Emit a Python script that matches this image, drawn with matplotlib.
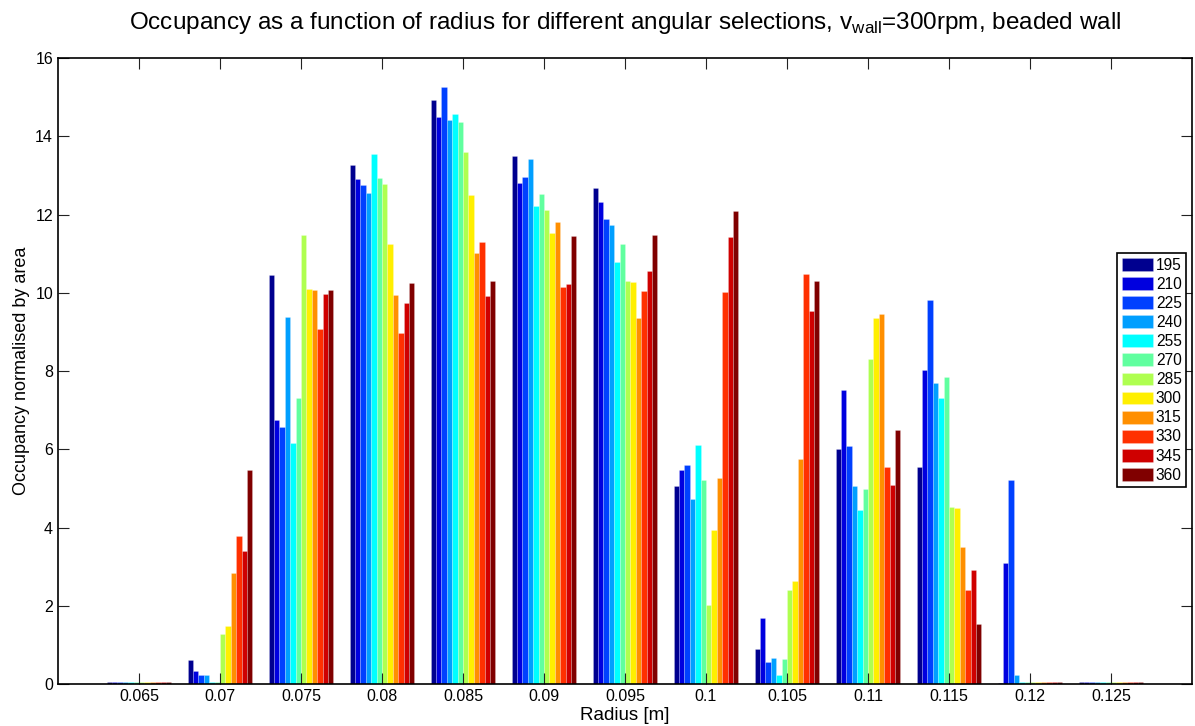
import numpy as np
import matplotlib
matplotlib.use("Agg")
import matplotlib.pyplot as plt

plt.rcParams['font.family'] = ['Liberation Sans', 'DejaVu Sans']
plt.rcParams['mathtext.fontset'] = 'custom'
plt.rcParams['mathtext.rm'] = 'Liberation Sans'

radius = [0.065, 0.07, 0.075, 0.08, 0.085, 0.09, 0.095, 0.1, 0.105, 0.11, 0.115, 0.12, 0.125]
radius_labels = ['0.065', '0.07', '0.075', '0.08', '0.085', '0.09', '0.095', '0.1',
                 '0.105', '0.11', '0.115', '0.12', '0.125']
angles = ['195', '210', '225', '240', '255', '270', '285', '300', '315', '330', '345', '360']

# occupancy per angular selection, one list per angle, one value per radius bin
occ_195 = [0.06, 0.62, 10.45, 13.26, 14.94, 13.49, 12.69, 5.07, 0.89, 6.00, 5.55, 0.03, 0.06]
occ_210 = [0.06, 0.32, 6.74, 12.91, 14.50, 12.80, 12.33, 5.46, 1.69, 7.52, 8.03, 3.10, 0.06]
occ_225 = [0.06, 0.22, 6.58, 12.76, 15.25, 12.96, 11.89, 5.61, 0.57, 6.08, 9.82, 5.21, 0.06]
occ_240 = [0.06, 0.23, 9.37, 12.54, 14.41, 13.43, 11.73, 4.73, 0.67, 5.05, 7.69, 0.23, 0.06]
occ_255 = [0.06, 0.05, 6.17, 13.55, 14.56, 12.23, 10.79, 6.11, 0.23, 4.45, 7.32, 0.05, 0.06]
occ_270 = [0.06, 0.05, 7.31, 12.94, 14.37, 12.53, 11.24, 5.21, 0.64, 4.98, 7.86, 0.06, 0.06]
occ_285 = [0.06, 1.29, 11.48, 12.77, 13.60, 12.11, 10.29, 2.02, 2.40, 8.31, 4.52, 0.06, 0.06]
occ_300 = [0.06, 1.48, 10.11, 11.26, 12.50, 11.53, 10.27, 3.94, 2.62, 9.36, 4.50, 0.06, 0.06]
occ_315 = [0.06, 2.84, 10.08, 9.95, 11.02, 11.80, 9.36, 5.27, 5.74, 9.45, 3.50, 0.06, 0.06]
occ_330 = [0.06, 3.78, 9.08, 8.98, 11.29, 10.15, 10.05, 10.03, 10.48, 5.55, 2.39, 0.06, 0.06]
occ_345 = [0.06, 3.39, 9.98, 9.75, 9.91, 10.23, 10.55, 11.42, 9.53, 5.09, 2.91, 0.06, 0.06]
occ_360 = [0.06, 5.46, 10.07, 10.26, 10.31, 11.46, 11.47, 12.09, 10.30, 6.49, 1.53, 0.06, 0.06]

series = [occ_195, occ_210, occ_225, occ_240, occ_255, occ_270,
          occ_285, occ_300, occ_315, occ_330, occ_345, occ_360]

# jet-like colours picked for 12 series
colors = [(0, 0, 0.5625), (0, 0, 0.875), (0, 0.25, 1), (0, 0.625, 1),
          (0, 1, 1), (0.375, 1, 0.625), (0.6875, 1, 0.3125), (1, 0.9375, 0),
          (1, 0.5625, 0), (1, 0.1875, 0), (0.8125, 0, 0), (0.5, 0, 0)]

fig = plt.figure(figsize=(11.95, 7.26), dpi=100)
ax = fig.add_axes([0.0485, 0.0579, 0.949, 0.862])

x = np.array(radius)
n = len(series)
w = 0.005 * 0.8 / n
for i, vals in enumerate(series):
    ax.bar(x + (i - (n - 1) / 2) * w, vals, width=w, color=colors[i],
           edgecolor=(1, 1, 1, 0.35), linewidth=0.4, label=angles[i])

ax.set_xlim(0.06, 0.13)
ax.set_ylim(0, 16)
ax.set_xticks(radius)
ax.set_xticklabels(radius_labels)
ax.set_yticks(range(0, 17, 2))
ax.tick_params(direction='in', length=8, width=0.8, top=True, right=True,
               labelsize=11.5, colors='#222222', labelcolor='black')
for s in ax.spines.values():
    s.set_linewidth(1.2)

ax.set_xlabel('Radius [m]', fontsize=13.5, labelpad=2)
ax.set_ylabel('Occupancy normalised by area', fontsize=13, labelpad=4)
ax.set_title(r'Occupancy as a function of radius for different angular selections, v$_{\rm wall}$=300rpm, beaded wall',
             fontsize=17.5, pad=21)

leg = ax.legend(loc='upper right', bbox_to_anchor=(0.995, 0.688), fontsize=11.2,
                fancybox=False, edgecolor='black', framealpha=1,
                handlelength=2.0, handleheight=0.9, handletextpad=0.2,
                labelspacing=0.26, borderpad=0.3, borderaxespad=0)
leg.get_frame().set_linewidth(1.2)

fig.savefig('out.png', dpi=100)
